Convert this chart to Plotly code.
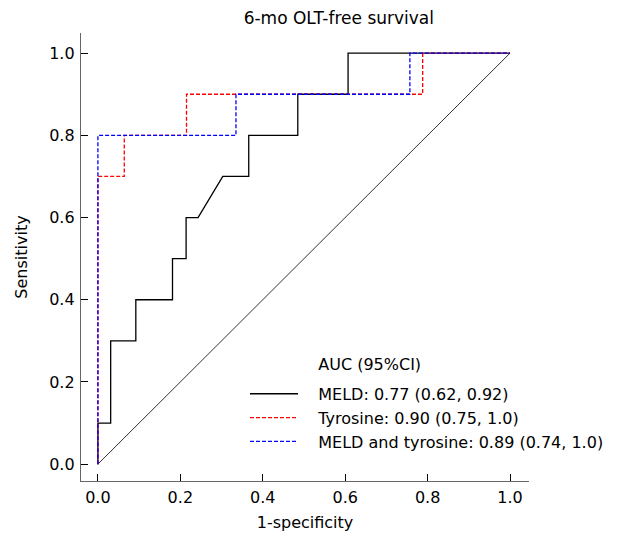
import plotly.graph_objects as go

# ROC curve points (1-specificity, sensitivity)
meld_fpr = [0.0, 0.0, 0.031, 0.031, 0.092, 0.092, 0.181, 0.181, 0.214, 0.214, 0.243, 0.303, 0.366, 0.366, 0.485, 0.485, 0.607, 0.607, 1.0]
meld_tpr = [0.0, 0.1, 0.1, 0.3, 0.3, 0.4, 0.4, 0.5, 0.5, 0.6, 0.6, 0.7, 0.7, 0.8, 0.8, 0.9, 0.9, 1.0, 1.0]

tyr_fpr = [0.0, 0.0, 0.064, 0.064, 0.215, 0.215, 0.788, 0.788, 1.0]
tyr_tpr = [0.0, 0.7, 0.7, 0.8, 0.8, 0.9, 0.9, 1.0, 1.0]

comb_fpr = [0.0, 0.0, 0.335, 0.335, 0.757, 0.757, 1.0]
comb_tpr = [0.0, 0.8, 0.8, 0.9, 0.9, 1.0, 1.0]

ref_x = [0.0, 1.0]
ref_y = [0.0, 1.0]

legend_title = "AUC (95%CI)"
names = ["MELD: 0.77 (0.62, 0.92)", "Tyrosine: 0.90 (0.75, 1.0)", "MELD and tyrosine: 0.89 (0.74, 1.0)"]

x_ticks = [0.0, 0.2, 0.4, 0.6, 0.8, 1.0]
y_ticks = [0.0, 0.2, 0.4, 0.6, 0.8, 1.0]

FONT = "DejaVu Sans"
PAD = "\u00a0\u00a0\u00a0"

fig = go.Figure()
fig.add_trace(go.Scatter(x=ref_x, y=ref_y, mode="lines", line=dict(color="#333333", width=1), showlegend=False, hoverinfo="skip"))
fig.add_trace(go.Scatter(x=[None], y=[None], mode="lines", line=dict(color="rgba(0,0,0,0)", width=1),
                         name=PAD + legend_title, legendgroup="head"))
fig.add_trace(go.Scatter(x=meld_fpr, y=meld_tpr, mode="lines", line=dict(color="black", width=1.3),
                         name=PAD + names[0], legendgroup="roc"))
fig.add_trace(go.Scatter(x=tyr_fpr, y=tyr_tpr, mode="lines", line=dict(color="#ff0000", width=1.3, dash="4px,2px"),
                         name=PAD + names[1], legendgroup="roc"))
fig.add_trace(go.Scatter(x=comb_fpr, y=comb_tpr, mode="lines", line=dict(color="#0000ff", width=1.3, dash="4px,2px"),
                         name=PAD + names[2], legendgroup="roc"))

axis_common = dict(
    showgrid=False, zeroline=False, showline=True, linecolor="#666666", linewidth=1.3,
    ticks="inside", ticklen=7, tickcolor="black", tickwidth=1,
    tickfont=dict(family=FONT, size=16, color="black"),
    tickformat=".1f", automargin=False,
)

fig.update_layout(
    width=624, height=533,
    margin=dict(l=81, r=95, t=33, b=52),
    paper_bgcolor="white", plot_bgcolor="white",
    title=dict(text="6-mo OLT-free survival", x=0.543, xanchor="center", y=0.966, yanchor="middle",
               font=dict(family=FONT, size=17, color="black"), automargin=False),
    xaxis=dict(range=[-0.041, 1.046], tickvals=x_ticks, ticklabelstandoff=2,
               title=dict(text="1-specificity", font=dict(family=FONT, size=16, color="black"), standoff=10),
               **axis_common),
    yaxis=dict(range=[-0.041, 1.049], tickvals=y_ticks, ticklabelstandoff=2,
               title=dict(text="Sensitivity", font=dict(family=FONT, size=16, color="black"), standoff=17),
               **axis_common),
    legend=dict(x=(245 - 81) / 448, y=0.299, xanchor="left", yanchor="top", bgcolor="rgba(0,0,0,0)",
                font=dict(family=FONT, size=16, color="black"), itemwidth=48, tracegroupgap=6),
    showlegend=True,
)

fig.write_html("out.html", config={"displayModeBar": False},
               post_script="document.body.style.margin='0';")
